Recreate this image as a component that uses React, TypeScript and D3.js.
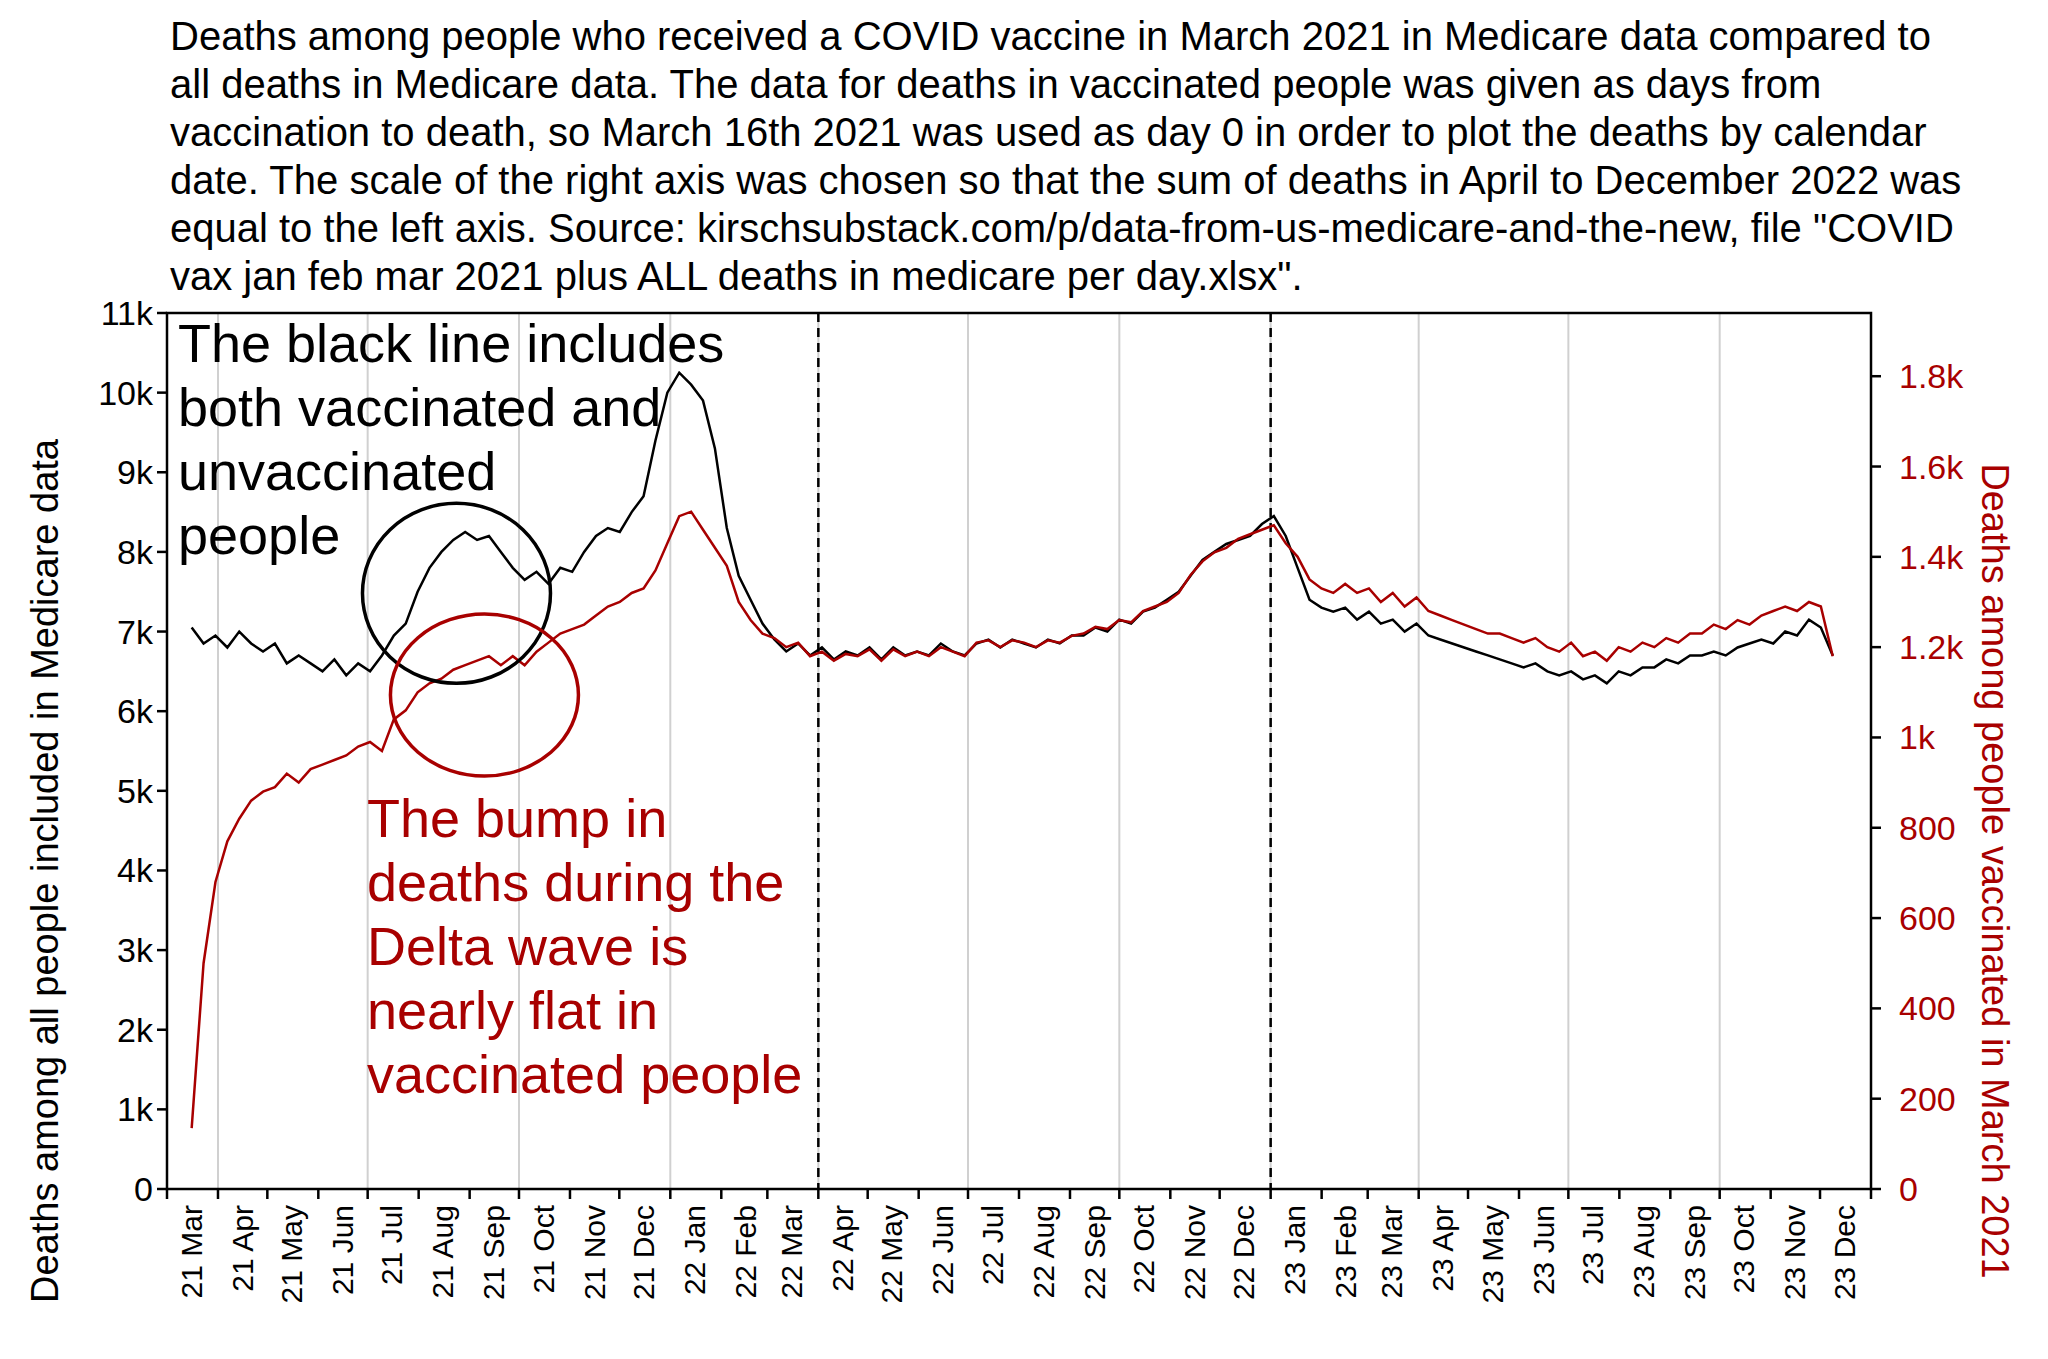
import * as d3 from "d3";
import { useEffect } from "react";

// readings about every 7.23 days, first point = 2021-03-16, last ~2023-12-10
const startDate = "2021-03-16";
const stepDays = 7.23;
const allDeaths = [
  7050, 6850, 6950, 6800, 7000, 6850, 6750, 6850, 6600, 6700, 6600, 6500, 6650, 6450,
  6600, 6500, 6700, 6950, 7100, 7500, 7800, 8000, 8150, 8250, 8150, 8200, 8000,
  7800, 7650, 7750, 7600, 7800, 7750, 8000, 8200, 8300, 8250, 8500, 8700, 9400,
  10000, 10250, 10100, 9900, 9300, 8300, 7700, 7400, 7100, 6900, 6750, 6850, 6700,
  6800, 6650, 6750, 6700, 6800, 6650, 6800, 6700, 6750, 6700, 6850, 6750, 6700,
  6850, 6900, 6800, 6900, 6850, 6800, 6900, 6850, 6950, 6950, 7050, 7000, 7150,
  7100, 7250, 7300, 7400, 7500, 7700, 7900, 8000, 8100, 8150, 8200, 8350, 8450,
  8200, 7800, 7400, 7300, 7250, 7300, 7150, 7250, 7100, 7150, 7000, 7100, 6950,
  6900, 6850, 6800, 6750, 6700, 6650, 6600, 6550, 6600, 6500, 6450, 6500, 6400,
  6450, 6350, 6500, 6450, 6550, 6550, 6650, 6600, 6700, 6700, 6750, 6700, 6800,
  6850, 6900, 6850, 7000, 6950, 7150, 7050, 6700,
];
const vaxDeaths = [
  135, 500, 680, 770, 820, 860, 880, 890, 920, 900, 930, 940, 950, 960,
  980, 990, 970, 1040, 1060, 1100, 1120, 1130, 1150, 1160, 1170, 1180, 1160,
  1180, 1160, 1190, 1210, 1230, 1240, 1250, 1270, 1290, 1300, 1320, 1330, 1370,
  1430, 1490, 1500, 1460, 1420, 1380, 1300, 1260, 1230, 1220, 1200, 1210, 1180,
  1190, 1170, 1185, 1180, 1195, 1170, 1195, 1180, 1190, 1180, 1200, 1190, 1180,
  1210, 1215, 1200, 1215, 1210, 1200, 1215, 1210, 1225, 1230, 1245, 1240, 1260,
  1255, 1280, 1290, 1300, 1320, 1360, 1390, 1410, 1420, 1440, 1450, 1460, 1470,
  1430, 1400, 1350, 1330, 1320, 1340, 1320, 1330, 1300, 1320, 1290, 1310, 1280,
  1270, 1260, 1250, 1240, 1230, 1230, 1220, 1210, 1220, 1200, 1190, 1210, 1180,
  1190, 1170, 1200, 1190, 1210, 1200, 1220, 1210, 1230, 1230, 1250, 1240, 1260,
  1250, 1270, 1280, 1290, 1280, 1300, 1290, 1180,
];
const leftTicks = [0, 1000, 2000, 3000, 4000, 5000, 6000, 7000, 8000, 9000, 10000, 11000];
const rightTicks = [0, 200, 400, 600, 800, 1000, 1200, 1400, 1600, 1800];
const dashedDates = ["2022-04-01", "2023-01-01"];
const titleLines = [
  "Deaths among people who received a COVID vaccine in March 2021 in Medicare data compared to",
  "all deaths in Medicare data. The data for deaths in vaccinated people was given as days from",
  "vaccination to death, so March 16th 2021 was used as day 0 in order to plot the deaths by calendar",
  "date. The scale of the right axis was chosen so that the sum of deaths in April to December 2022 was",
  "equal to the left axis. Source: kirschsubstack.com/p/data-from-us-medicare-and-the-new, file \"COVID",
  "vax jan feb mar 2021 plus ALL deaths in medicare per day.xlsx\".",
];
const blackNote = ["The black line includes", "both vaccinated and", "unvaccinated", "people"];
const redNote = ["The bump in", "deaths during the", "Delta wave is", "nearly flat in", "vaccinated people"];

const RED = "#a80000";
const FONT = "Liberation Sans, Arial, sans-serif";

export default function App() {
  useEffect(() => { document.body.style.margin = "0"; }, []);
  const L = 167, R = 1871, T = 313, B = 1189;
  const parse = d3.utcParse("%Y-%m-%d");
  const t0 = parse(startDate)!;
  const dates = allDeaths.map((_, i) => new Date(t0.getTime() + i * stepDays * 864e5));
  const x = d3.scaleUtc().domain([parse("2021-03-01")!, parse("2024-01-01")!]).range([L, R]);
  const yL = d3.scaleLinear().domain([0, 11000]).range([B, T]);
  const yR = d3.scaleLinear().domain([0, 1940]).range([B, T]);
  const months = d3.utcMonth.range(parse("2021-03-01")!, parse("2024-01-02")!);
  const labelMonths = months.slice(0, -1);
  const quarters = months.filter((m) => m.getUTCMonth() % 3 === 0);
  const fmtM = d3.utcFormat("%y %b");
  const fmtR = (v: number) => (v >= 1000 ? `${d3.format("~g")(v / 1000)}k` : `${v}`);
  const lineB = d3.line<number>().x((_, i) => x(dates[i])).y((d) => yL(d));
  const lineR = d3.line<number>().x((_, i) => x(dates[i])).y((d) => yR(d));

  return (
    <svg width={2048} height={1359} style={{ display: "block", background: "#fff" }} fontFamily={FONT}>
      {titleLines.map((s, i) => (
        <text key={i} x={170} y={50 + i * 48} fontSize={40}>{s}</text>
      ))}
      {quarters.map((q, i) => (
        <line key={i} x1={x(q)} x2={x(q)} y1={T} y2={B} stroke="#d0d0d0" strokeWidth={2} />
      ))}
      {dashedDates.map((d, i) => (
        <line key={i} x1={x(parse(d)!)} x2={x(parse(d)!)} y1={T} y2={B} stroke="#000" strokeWidth={2.5} strokeDasharray="9,6" />
      ))}
      <path d={lineB(allDeaths)!} fill="none" stroke="#000" strokeWidth={2.5} />
      <path d={lineR(vaxDeaths)!} fill="none" stroke={RED} strokeWidth={2.5} />
      <ellipse cx={x(parse("2021-08-24")!)} cy={yL(7480)} rx={94} ry={90} fill="none" stroke="#000" strokeWidth={3.5} />
      <ellipse cx={x(parse("2021-09-10")!)} cy={yR(1094)} rx={94} ry={81} fill="none" stroke={RED} strokeWidth={3.5} />
      {blackNote.map((s, i) => (
        <text key={i} x={178} y={362 + i * 64} fontSize={54}>{s}</text>
      ))}
      {redNote.map((s, i) => (
        <text key={i} x={367} y={837 + i * 64} fontSize={54} fill={RED}>{s}</text>
      ))}
      <rect x={L} y={T} width={R - L} height={B - T} fill="none" stroke="#000" strokeWidth={2.5} />
      {leftTicks.map((v) => (
        <g key={v}>
          <line x1={L - 10} x2={L} y1={yL(v)} y2={yL(v)} stroke="#000" strokeWidth={2.5} />
          <text x={L - 14} y={yL(v) + 12} textAnchor="end" fontSize={34}>{v === 0 ? "0" : `${v / 1000}k`}</text>
        </g>
      ))}
      {rightTicks.map((v) => (
        <g key={v}>
          <line x1={R} x2={R + 10} y1={yR(v)} y2={yR(v)} stroke="#000" strokeWidth={2.5} />
          <text x={R + 28} y={yR(v) + 12} fontSize={34} fill={RED}>{fmtR(v)}</text>
        </g>
      ))}
      {months.map((m, i) => (
        <line key={i} x1={x(m)} x2={x(m)} y1={B} y2={B + 10} stroke="#000" strokeWidth={2.5} />
      ))}
      {labelMonths.map((m, i) => {
        const cx = x(d3.utcDay.offset(m, 15));
        return (
          <text key={i} transform={`translate(${cx + 10},${B + 16}) rotate(-90)`} textAnchor="end" fontSize={30}>{fmtM(m)}</text>
        );
      })}
      <text transform={`translate(58,${(T + B) / 2 + 120}) rotate(-90)`} textAnchor="middle" fontSize={38}>
        Deaths among all people included in Medicare data
      </text>
      <text transform={`translate(1982,${(T + B) / 2 + 120}) rotate(90)`} textAnchor="middle" fontSize={38} fill={RED}>
        Deaths among people vaccinated in March 2021
      </text>
    </svg>
  );
}
